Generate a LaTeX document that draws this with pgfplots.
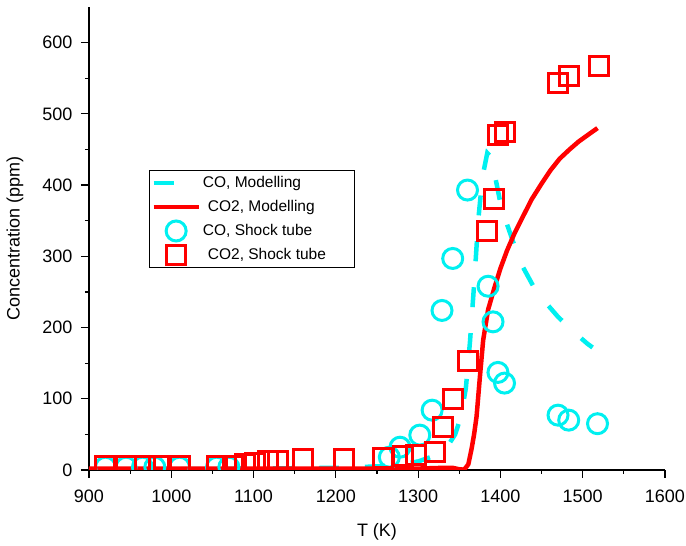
\documentclass[border=0pt]{standalone}
\usepackage{fontspec}
\setmainfont{Liberation Sans}
\usepackage{pgfplots}
\pgfplotsset{compat=1.18}
\definecolor{cocyan}{RGB}{0,240,240}
\begin{document}
\begin{tikzpicture}
\useasboundingbox (-89pt,-76pt) rectangle (597pt,470pt);
\begin{axis}[
  at={(0pt,0pt)}, anchor=south west,
  scale only axis, width=576pt, height=463pt,
  xmin=900, xmax=1600, ymin=0, ymax=650,
  axis x line=bottom, axis y line=left,
  axis line style={-, line width=1.2pt},
  xtick={900,1000,...,1600}, ytick={0,100,...,600},
  minor x tick num=1, minor y tick num=1,
  tick align=outside, major tick length=8pt, minor tick length=4pt,
  every tick/.style={black, line width=1.2pt},
  ticklabel style={font=\fontsize{18}{20}\selectfont},
  xticklabel style={yshift=-8.7pt},
  yticklabel style={xshift=-5pt},
  /pgf/number format/assume math mode=true,
  /pgf/number format/1000 sep={},
  xlabel={T (K)}, ylabel={Concentration (ppm)},
  label style={font=\fontsize{18}{20}\selectfont},
  xlabel style={at={(axis description cs:0.5,-0.134)}, anchor=center},
  ylabel style={at={(axis description cs:-0.1285,0.5)}, anchor=center},
  clip marker paths=true,
  legend style={at={(axis description cs:0.104,0.648)}, anchor=north west, draw=black, line width=1pt,
    font=\fontsize{15.5}{17}\selectfont, row sep=1pt, inner xsep=2pt, inner ysep=1pt},
  legend cell align=left,
  legend image code/.code={\path[draw=none] (0pt,-11.5pt) rectangle (45pt,11.5pt); \draw[mark repeat=2,mark phase=2] plot coordinates {(0pt,0pt) (22.5pt,0pt) (45pt,0pt)};},
]
\addplot[cocyan, line width=4.5pt, dash pattern=on 20pt off 26pt] coordinates {
(900,1) (1000,1) (1100,2) (1200,3) (1250,5) (1280,8) (1300,12) (1320,20) (1335,32) (1345,50) (1352,75) (1358,115) (1363,180) (1368,260) (1373,350) (1378,410) (1384,445) (1388,440) (1393,415) (1400,375) (1408,345) (1424,292) (1440,258) (1455,235) (1470,215) (1490,193) (1506,177) (1512,172)};
\addlegendentry{\makebox[148pt][l]{CO, Modelling}}
\addplot[red, line width=4.5pt] coordinates {
(900,2) (1000,2) (1100,2) (1200,2) (1300,2) (1330,3) (1342,3) (1350,1) (1356,0.5) (1361,8) (1365,30) (1368,50) (1371,75) (1375,130) (1379,182) (1385,225) (1393,257) (1400,283) (1408,308) (1417,332) (1427,355) (1438,380) (1450,402) (1461,421) (1472,437) (1484,450) (1495,461) (1507,471) (1518,480)};
\addlegendentry{\makebox[148pt][l]{\hspace{5pt}CO2, Modelling}}
\addplot[only marks, mark=o, mark size=10pt, cocyan, line width=3pt] coordinates {
(920,4) (945,4) (965,4) (980,4) (1010,4) (1055,4) (1070,4) (1265,18) (1278,32) (1302,49) (1317,84) (1329,224) (1342,297) (1360,393) (1385,258) (1391,208) (1397,137) (1405,122) (1470,77) (1483,70) (1518,65)};
\addlegendentry{\makebox[148pt][l]{CO, Shock tube}}
\addplot[only marks, mark=square, mark size=9.5pt, red, line width=3pt] coordinates {
(920,5) (945,5) (968,5) (985,5) (1010,5) (1055,5) (1075,5) (1090,8) (1102,10) (1117,12) (1130,12) (1160,15) (1210,15) (1257,17) (1281,20) (1298,21) (1320,25) (1330,60) (1342,100) (1360,153) (1384,335) (1392,381) (1397,471) (1405,474) (1470,544) (1483,553) (1520,567)};
\addlegendentry{\makebox[148pt][l]{\hspace{5pt}CO2, Shock tube}}
\end{axis}
\end{tikzpicture}
\end{document}
